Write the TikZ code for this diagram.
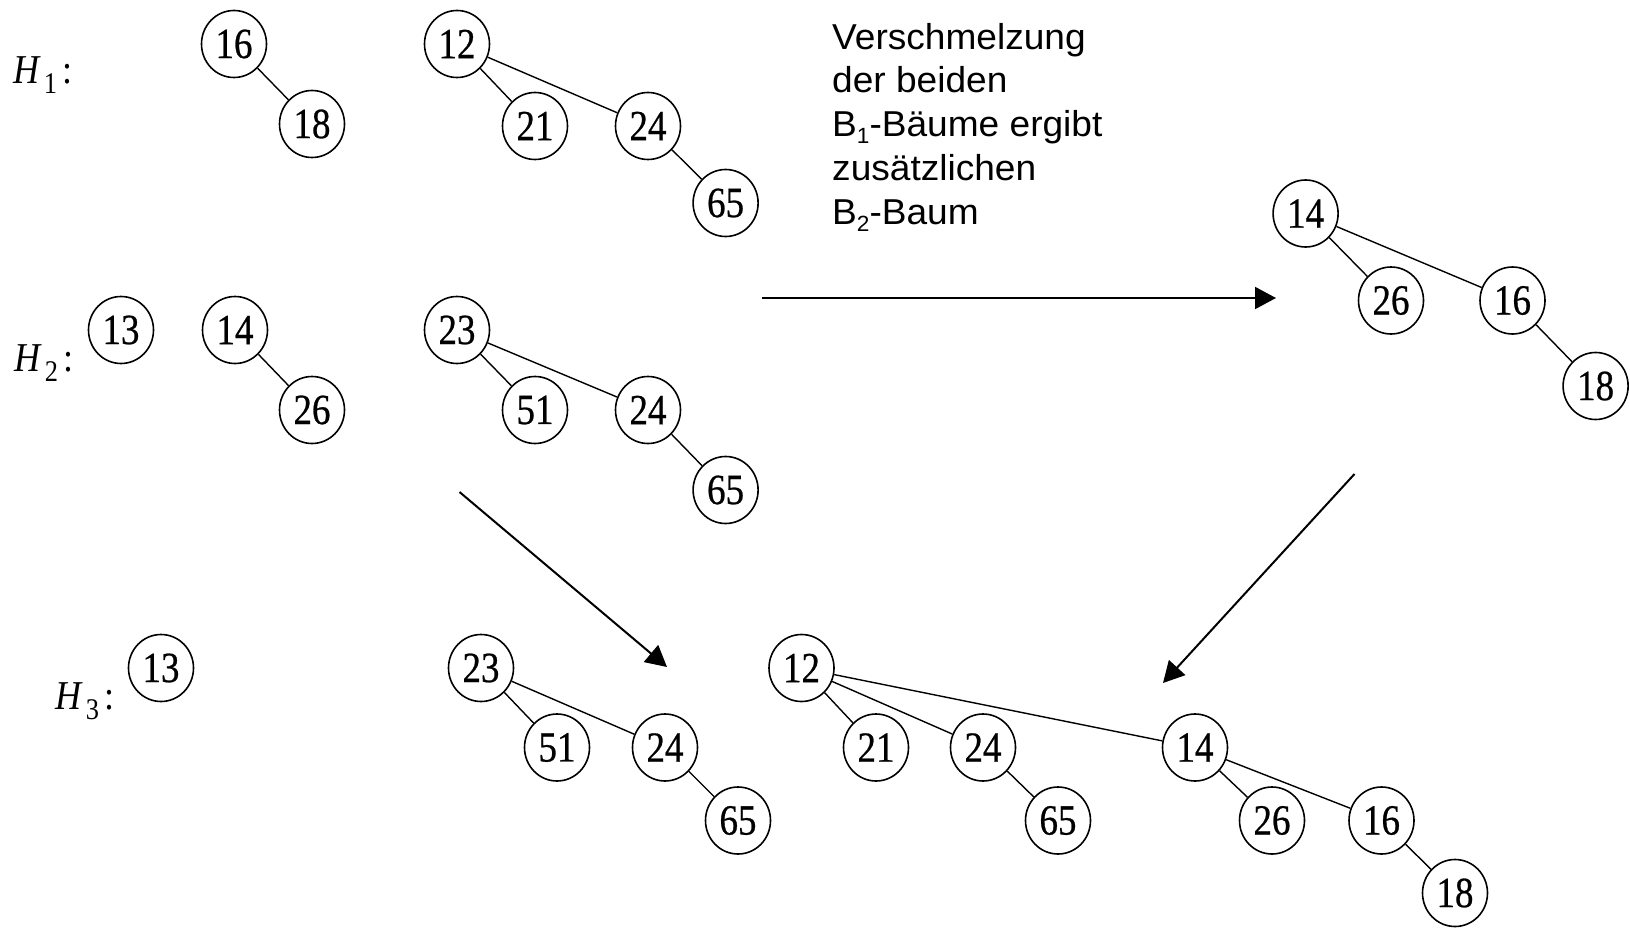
\documentclass[tikz,border=0pt]{standalone}
\usepackage{fontspec}
\setmainfont{Liberation Serif}
\newfontfamily\numfont[FakeStretch=0.86,FakeBold=0.6]{Liberation Serif}
\newfontfamily\hfont[FakeStretch=0.88]{Liberation Serif}
\newfontfamily\labfont[FakeStretch=1.03]{Liberation Sans}
\usetikzlibrary{arrows.meta,shapes.geometric}
\newcommand{\hsub}[1]{\hspace{3pt}\raisebox{-10pt}{\fontsize{30}{30}\selectfont\upshape #1}\hspace{5pt}}
\newcommand{\bsub}[1]{\raisebox{-7pt}{\fontsize{22}{22}\selectfont #1}}
\begin{document}
\begin{tikzpicture}[x=1pt,y=-1pt,
 knot/.style={ellipse, draw, line width=1.6pt, minimum width=65pt, minimum height=67pt, inner sep=0pt, font=\numfont\fontsize{43}{43}\selectfont},
 edge/.style={line width=1.4pt},
 flow/.style={line width=2pt, -{Triangle[length=21pt,width=22pt]}},
 hlab/.style={font=\hfont\fontsize{41}{41}\selectfont, inner sep=0pt, anchor=base west},
 txt/.style={font=\labfont\fontsize{36}{43.7}\selectfont, anchor=north west, align=left, inner sep=0pt}]
\useasboundingbox (0,0) rectangle (1630,928);

% labels
\node[hlab] (h1) at (13,84) {\textit{H}\hsub{1}:};
\node[hlab] (h2) at (14,371) {\textit{H}\hsub{2}:};
\node[hlab] (h3) at (55,709) {\textit{H}\hsub{3}:};

% H1
\node[knot] (a16) at (234,44) {16};
\node[knot] (a18) at (312,124) {18};
\node[knot] (a12) at (457,44) {12};
\node[knot] (a21) at (535,126) {21};
\node[knot] (a24) at (648,126) {24};
\node[knot] (a65) at (725.6,203) {65};
\draw[edge] (a16) -- (a18);
\draw[edge] (a12) -- (a21);
\draw[edge] (a12) -- (a24);
\draw[edge] (a24) -- (a65);

% H2
\node[knot] (b13) at (121,330) {13};
\node[knot] (b14) at (235,330) {14};
\node[knot] (b26) at (312,410) {26};
\node[knot] (b23) at (457,330) {23};
\node[knot] (b51) at (535,410) {51};
\node[knot] (b24) at (648,410) {24};
\node[knot] (b65) at (725.6,490) {65};
\draw[edge] (b14) -- (b26);
\draw[edge] (b23) -- (b51);
\draw[edge] (b23) -- (b24);
\draw[edge] (b24) -- (b65);

% merged B2 tree (right)
\node[knot] (r14) at (1305.6,213.5) {14};
\node[knot] (r26) at (1391,300.5) {26};
\node[knot] (r16) at (1512.5,300.5) {16};
\node[knot] (r18) at (1595.6,386) {18};
\draw[edge] (r14) -- (r26);
\draw[edge] (r14) -- (r16);
\draw[edge] (r16) -- (r18);

% text
\node[txt] (note) at (832,23) {Verschmelzung\\der beiden\\B\bsub{1}-B\"aume ergibt\\zus\"atzlichen\\B\bsub{2}-Baum};

% H3
\node[knot] (c13) at (161,668) {13};
\node[knot] (c23) at (481,668) {23};
\node[knot] (c51) at (557,747.5) {51};
\node[knot] (c24) at (665,747.5) {24};
\node[knot] (c65) at (738,820.5) {65};
\draw[edge] (c23) -- (c51);
\draw[edge] (c23) -- (c24);
\draw[edge] (c24) -- (c65);

\node[knot] (d12) at (801.5,668) {12};
\node[knot] (d21) at (876,747.5) {21};
\node[knot] (d24) at (983,747.5) {24};
\node[knot] (d65) at (1058,820.5) {65};
\node[knot] (d14) at (1195,747.5) {14};
\node[knot] (d26) at (1272,820.5) {26};
\node[knot] (d16) at (1381.5,820.5) {16};
\node[knot] (d18) at (1455,893) {18};
\draw[edge] (d12) -- (d21);
\draw[edge] (d12) -- (d24);
\draw[edge] (d12) -- (d14);
\draw[edge] (d24) -- (d65);
\draw[edge] (d14) -- (d26);
\draw[edge] (d14) -- (d16);
\draw[edge] (d16) -- (d18);

% arrows
\coordinate (p1s) at (762,298);
\coordinate (p1e) at (1276,298);
\coordinate (p2s) at (459.5,492);
\coordinate (p2e) at (667,667);
\coordinate (p3s) at (1354.5,474);
\coordinate (p3e) at (1163,683);
\draw[flow] (p1s) -- (p1e);
\draw[flow] (p2s) -- (p2e);
\draw[flow] (p3s) -- (p3e);
\end{tikzpicture}
\end{document}
